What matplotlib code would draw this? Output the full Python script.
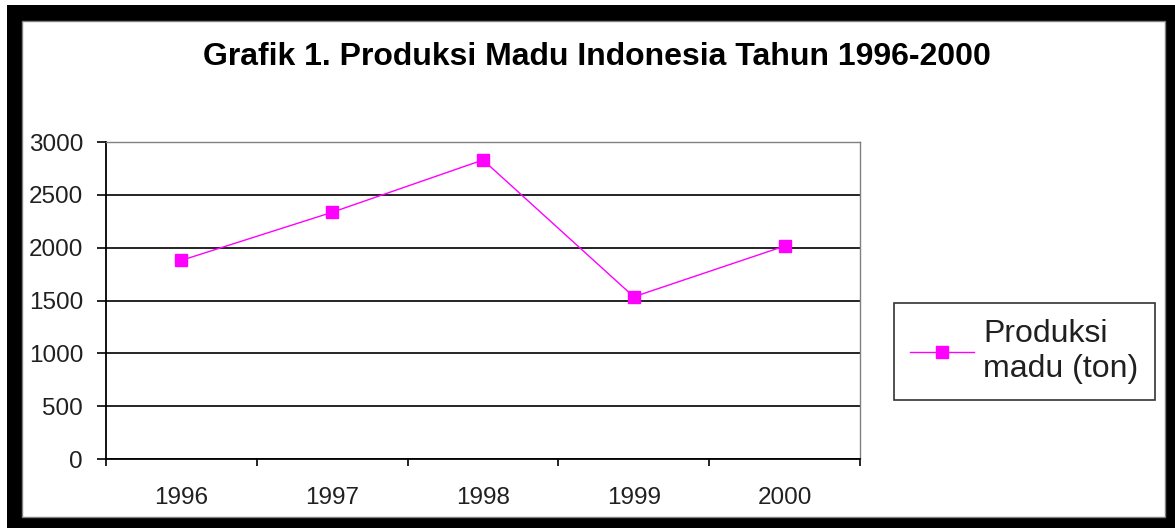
import matplotlib
matplotlib.use("Agg")
import matplotlib.pyplot as plt
from matplotlib.patches import Rectangle

plt.rcParams['font.family'] = ['Liberation Sans', 'DejaVu Sans']

# data
years = ["1996", "1997", "1998", "1999", "2000"]
produksi = [1880, 2335, 2830, 1535, 2015]
y_ticks = [0, 500, 1000, 1500, 2000, 2500, 3000]

W, H = 1175, 528
fig = plt.figure(figsize=(W / 100, H / 100), dpi=100)
fig.patch.set_facecolor("white")

# black frame round the chart, white inner panel (kept behind the axes)
fig.patches.append(Rectangle((7 / W, 0), 1, (H - 5) / H, transform=fig.transFigure,
                             facecolor="black", edgecolor="none", zorder=-10))
fig.patches.append(Rectangle((22 / W, (H - 517) / H), 1143 / W, 496 / H,
                             transform=fig.transFigure, facecolor="white",
                             edgecolor="#808080", linewidth=1, zorder=-9))

ax = fig.add_axes([106 / W, (H - 459) / H, 754 / W, 317 / H])
ax.set_facecolor("none")

x = list(range(len(years)))
ax.plot(x, produksi, color="#FF00FF", linewidth=1.0, marker="s", markersize=9,
        markerfacecolor="#FF00FF", markeredgecolor="#FF00FF",
        label="Produksi\nmadu (ton)", zorder=3)

ax.set_xlim(-0.5, len(years) - 0.5)
ax.set_ylim(0, 3000)
ax.set_yticks(y_ticks)
ax.set_xticks(x)
ax.set_xticklabels(years)
ax.set_xticks([i - 0.5 for i in range(len(years) + 1)], minor=True)

ax.yaxis.grid(True, color="black", linewidth=1.2)
ax.set_axisbelow(True)

ax.tick_params(axis="y", direction="out", length=6.5, width=1.2, labelsize=17.5,
               pad=10, labelcolor="#202020")
ax.tick_params(axis="x", which="major", length=0, labelsize=17.5, pad=20,
               labelcolor="#202020")
ax.tick_params(axis="x", which="minor", direction="out", length=5, width=1.2)

for s in ["left", "bottom"]:
    ax.spines[s].set_color("black")
    ax.spines[s].set_linewidth(1.3)
for s in ["top", "right"]:
    ax.spines[s].set_color("#808080")
    ax.spines[s].set_linewidth(1)

fig.text(0.508, 0.892, "Grafik 1. Produksi Madu Indonesia Tahun 1996-2000",
         ha="center", va="center", fontsize=23, fontweight="bold")

leg = ax.legend(loc="center left", bbox_to_anchor=(894 / W, (H - 351.5) / H),
                bbox_transform=fig.transFigure, fontsize=23, frameon=True,
                fancybox=False, edgecolor="black", borderaxespad=0,
                borderpad=0.5, handlelength=2.0, handletextpad=0.3)
leg.get_frame().set_linewidth(1.2)
for t in leg.get_texts():
    t.set_color("#202020")

fig.savefig("out.png", dpi=100)
